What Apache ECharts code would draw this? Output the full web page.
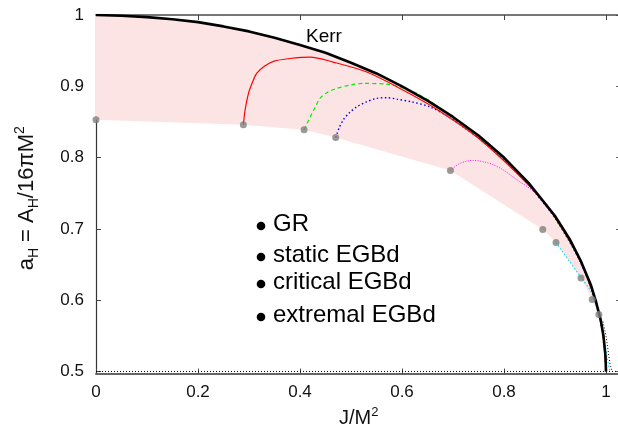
<!DOCTYPE html>
<html><head><meta charset="utf-8">
<script src="https://cdn.jsdelivr.net/npm/echarts@6/dist/echarts.min.js"></script>
<style>html,body{margin:0;padding:0;background:#fff}#c{width:618px;height:431px}</style>
</head><body><div id="c"></div>
<script>
// ---- data ----
const xTicks = [0, 0.2, 0.4, 0.6, 0.8, 1];
const yTicks = [0.5, 0.6, 0.7, 0.8, 0.9, 1];
const legendLabels = ['GR', 'static EGBd', 'critical EGBd', 'extremal EGBd'];

const kerr = [[0,1],[0.05,0.999],[0.1,0.997],[0.15,0.994],[0.2,0.990],[0.25,0.984],[0.3,0.977],[0.35,0.968],[0.4,0.958],[0.45,0.947],[0.5,0.933],[0.55,0.918],[0.6,0.900],[0.65,0.880],[0.7,0.857],[0.75,0.831],[0.8,0.800],[0.85,0.763],[0.9,0.718],[0.93,0.684],[0.95,0.656],[0.97,0.622],[0.98,0.599],[0.99,0.571],[0.995,0.550],[0.999,0.522],[1,0.5]];

const lowerEdge = [[0,0.853],[0.289,0.846],[0.408,0.839],[0.47,0.828],[0.695,0.782],[0.876,0.699],[0.902,0.681],[0.951,0.631],[0.973,0.601],[0.986,0.580],[1,0.5]];

const redCurve = [[0.289,0.846],[0.292,0.865],[0.299,0.890],[0.307,0.906],[0.315,0.918],[0.33,0.928],[0.348,0.935],[0.38,0.939],[0.42,0.941],[0.465,0.934],[0.531,0.920],[0.596,0.897],[0.661,0.871],[0.75,0.827],[0.85,0.760],[0.9,0.716],[0.95,0.654],[0.98,0.597],[0.995,0.548],[1,0.5]];

const greenCurve = [[0.408,0.839],[0.414,0.848],[0.42,0.857],[0.43,0.871],[0.439,0.883],[0.455,0.892],[0.472,0.897],[0.5,0.902],[0.524,0.904],[0.57,0.903],[0.6,0.898],[0.629,0.890],[0.66,0.877],[0.688,0.862],[0.72,0.845],[0.746,0.831],[0.8,0.798],[0.85,0.761],[0.9,0.716],[0.95,0.654],[0.98,0.597],[0.995,0.548],[1,0.5]];

const blueCurve = [[0.47,0.828],[0.477,0.842],[0.485,0.853],[0.497,0.863],[0.511,0.871],[0.53,0.878],[0.55,0.883],[0.57,0.884],[0.59,0.882],[0.62,0.878],[0.655,0.871],[0.69,0.858],[0.72,0.843],[0.753,0.826],[0.8,0.797],[0.85,0.760],[0.9,0.715],[0.95,0.653],[0.98,0.596],[0.995,0.547],[1,0.5]];

const magentaCurve = [[0.695,0.782],[0.705,0.788],[0.714,0.792],[0.727,0.795],[0.74,0.796],[0.76,0.794],[0.779,0.790],[0.8,0.782],[0.825,0.769],[0.85,0.757],[0.871,0.745],[0.89,0.729],[0.903,0.716],[0.93,0.682],[0.95,0.653],[0.97,0.618],[0.985,0.585],[0.995,0.550],[1,0.5]];

const cyanCurve = [[0.902,0.681],[0.913,0.670],[0.928,0.655],[0.943,0.640],[0.956,0.627],[0.969,0.614],[0.978,0.600],[0.985,0.586],[0.991,0.570],[0.995,0.554],[0.999,0.535],[1.003,0.516],[1.008,0.5]];

const blackDotted = [[0.994,0.570],[1.0,0.550],[1.004,0.530],[1.008,0.510],[1.012,0.5]];

const baseLine = [[0,0.5],[1.03,0.5]];

const grayPoints = [[0,0.853],[0.289,0.846],[0.408,0.839],[0.47,0.828],[0.695,0.782],[0.876,0.699],[0.902,0.681],[0.951,0.631],[0.973,0.601],[0.986,0.580]];

// ---- chart ----
const FF = '"Liberation Sans", Arial, sans-serif';
const chart = echarts.init(document.getElementById('c'), null, {renderer: 'canvas'});
const fmt = v => String(+(+v).toFixed(1));

const lineSeries = (data, color, width, type, z, smooth) => ({
  type: 'line', data, showSymbol: false, symbol: 'none', z: z || 3, smooth: smooth || false,
  lineStyle: {color, width, type}, silent: true, animation: false
});

const option = {
  animation: false,
  backgroundColor: '#fff',
  grid: {left: 96, top: 15, width: 525.3, height: 358.6, outerBoundsMode: 'none', containLabel: false},
  xAxis: [{
    type: 'value', min: 0, max: 1.03, position: 'bottom',
    axisLine: {show: true, onZero: false, lineStyle: {color: '#666', width: 2}},
    axisTick: {show: true, inside: true, length: 5, customValues: xTicks, lineStyle: {color: '#444'}},
    axisLabel: {customValues: xTicks, formatter: fmt, fontSize: 17, fontFamily: FF, color: '#111', margin: 10},
    splitLine: {show: false},
    name: 'J/M{p|2}', nameLocation: 'middle', nameGap: 26,
    nameTextStyle: {fontSize: 20, fontFamily: FF, color: '#111', lineHeight: 26,
      rich: {p: {fontSize: 13, fontFamily: FF, color: '#111', verticalAlign: 'top', lineHeight: 14}}}
  }, {
    type: 'value', min: 0, max: 1.03, position: 'top',
    axisLine: {show: true, onZero: false, lineStyle: {color: '#777', width: 2}},
    axisTick: {show: true, inside: true, length: 5, customValues: xTicks, lineStyle: {color: '#444'}},
    axisLabel: {show: false}, splitLine: {show: false}
  }],
  yAxis: [{
    type: 'value', min: 0.497, max: 1, position: 'left',
    axisLine: {show: true, onZero: false, lineStyle: {color: '#333', width: 1.2}},
    axisTick: {show: true, inside: true, length: 5, customValues: yTicks, lineStyle: {color: '#444'}},
    axisLabel: {customValues: yTicks, formatter: fmt, fontSize: 17, fontFamily: FF, color: '#111', margin: 12},
    splitLine: {show: false},
    name: 'a{s|H} = A{s|H}/16πM{p|2}', nameLocation: 'middle', nameRotate: 90, nameGap: 55,
    nameTextStyle: {fontSize: 22, fontFamily: FF, color: '#111', lineHeight: 28, padding: [0, 8, 0, 0],
      rich: {
        s: {fontSize: 14, fontFamily: FF, color: '#111', verticalAlign: 'bottom', lineHeight: 15},
        p: {fontSize: 14, fontFamily: FF, color: '#111', verticalAlign: 'top', lineHeight: 15}
      }}
  }, {
    type: 'value', min: 0.497, max: 1, position: 'right',
    axisLine: {show: true, onZero: false, lineStyle: {color: '#555', width: 1.2}},
    axisTick: {show: true, inside: true, length: 5, customValues: yTicks, lineStyle: {color: '#444'}},
    axisLabel: {show: false}, splitLine: {show: false}
  }],
  series: [
    {
      type: 'custom', z: 1, silent: true, data: [0],
      renderItem: function (params, api) {
        const pts = kerr.map(p => api.coord(p));
        for (let i = lowerEdge.length - 1; i >= 0; i--) pts.push(api.coord(lowerEdge[i]));
        return {type: 'polygon', shape: {points: pts}, style: {fill: '#fde4e4', stroke: null}};
      }
    },
    lineSeries(baseLine, '#000', 1, [1, 2], 2),
    lineSeries(blackDotted, '#000', 1, [1, 2], 2),
    lineSeries(cyanCurve, '#00e5ff', 1.2, [1.5, 2], 3, 0.3),
    lineSeries(magentaCurve, '#ff00ff', 1, [1, 1.5], 3, 0.3),
    lineSeries(blueCurve, '#0000ff', 1.4, [1.5, 2.5], 3, 0.3),
    lineSeries(greenCurve, '#00ee00', 1.2, [4, 3], 3, 0.3),
    lineSeries(redCurve, '#ff0000', 1.2, 'solid', 4, 0.3),
    lineSeries(kerr, '#000', 2.6, 'solid', 5),
    {
      type: 'scatter', data: grayPoints, symbol: 'circle', symbolSize: 7, z: 6,
      itemStyle: {color: '#7f7f7f'}, silent: true
    }
  ],
  graphic: [
    {type: 'text', left: 306, top: 27, style: {text: 'Kerr', fontSize: 19, fontFamily: FF, fill: '#000'}},
  ].concat(legendLabels.flatMap((t, i) => {
    const ys = [226, 257, 284, 317];
    return [
      {type: 'circle', shape: {cx: 261, cy: ys[i], r: 4.3}, style: {fill: '#000'}},
      {type: 'text', x: 273, y: ys[i] - 2, style: {text: t, fontSize: 24, fontFamily: FF, fill: '#000', textVerticalAlign: 'middle'}}
    ];
  }))
};
chart.setOption(option);
</script>
</body></html>
